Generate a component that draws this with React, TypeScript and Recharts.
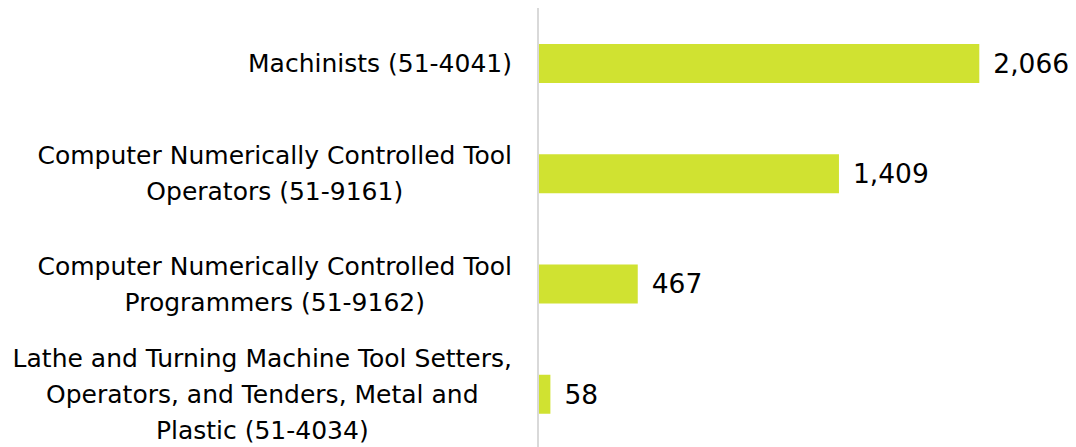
import { Bar, BarChart, LabelList, XAxis, YAxis } from "recharts"

const categories = [
  "Machinists (51-4041)",
  "Computer Numerically Controlled Tool\nOperators (51-9161)",
  "Computer Numerically Controlled Tool\nProgrammers (51-9162)",
  "Lathe and Turning Machine Tool Setters,\nOperators, and Tenders, Metal and\nPlastic (51-4034)",
]
const employment = [2066, 1409, 467, 58]

const data = categories.map((name, i) => ({ name, value: employment[i] }))

const FONT = "'DejaVu Sans', sans-serif"
const FONT_SIZE = 25

let ctx: CanvasRenderingContext2D | null = null
function measure(text: string) {
  if (!ctx) ctx = document.createElement("canvas").getContext("2d")
  if (!ctx) return text.length * FONT_SIZE * 0.5
  ctx.font = `${FONT_SIZE}px ${FONT}`
  return ctx.measureText(text).width
}

function CategoryTick({ x, y, payload }: any) {
  const lines = String(payload.value).split("\n")
  const widest = Math.max(...lines.map(measure))
  const right = x - 18
  const cx = right - widest / 2
  const lineHeight = 36
  const top = y - ((lines.length - 1) * lineHeight) / 2
  return (
    <text x={cx} y={top} textAnchor="middle" fill="#000" fontSize={FONT_SIZE} fontFamily={FONT} dominantBaseline="central">
      {lines.map((l, i) => (
        <tspan key={i} x={cx} y={top + i * lineHeight}>
          {l}
        </tspan>
      ))}
    </text>
  )
}

export default function App() {
  return (
    <div style={{ width: 1068, height: 441, background: "#fff" }}>
      <BarChart
        width={1068}
        height={441}
        data={data}
        layout="vertical"
        margin={{ top: 0, right: 4, left: 0, bottom: 0 }}
        barSize={39}
        style={{ overflow: "visible" }}
      >
        <XAxis type="number" domain={[0, 2500]} hide />
        <YAxis
          type="category"
          dataKey="name"
          width={530}
          axisLine={{ stroke: "#d9d9d9", strokeWidth: 2 }}
          tickLine={false}
          tick={<CategoryTick />}
          interval={0}
        />
        <Bar dataKey="value" fill="#d0e231" isAnimationActive={false}>
          <LabelList
            dataKey="value"
            position="right"
            offset={14}
            fill="#000"
            fontSize={26.5}
            fontFamily={FONT}
            formatter={(v: any) => Number(v).toLocaleString("en-US")}
          />
        </Bar>
      </BarChart>
    </div>
  )
}
